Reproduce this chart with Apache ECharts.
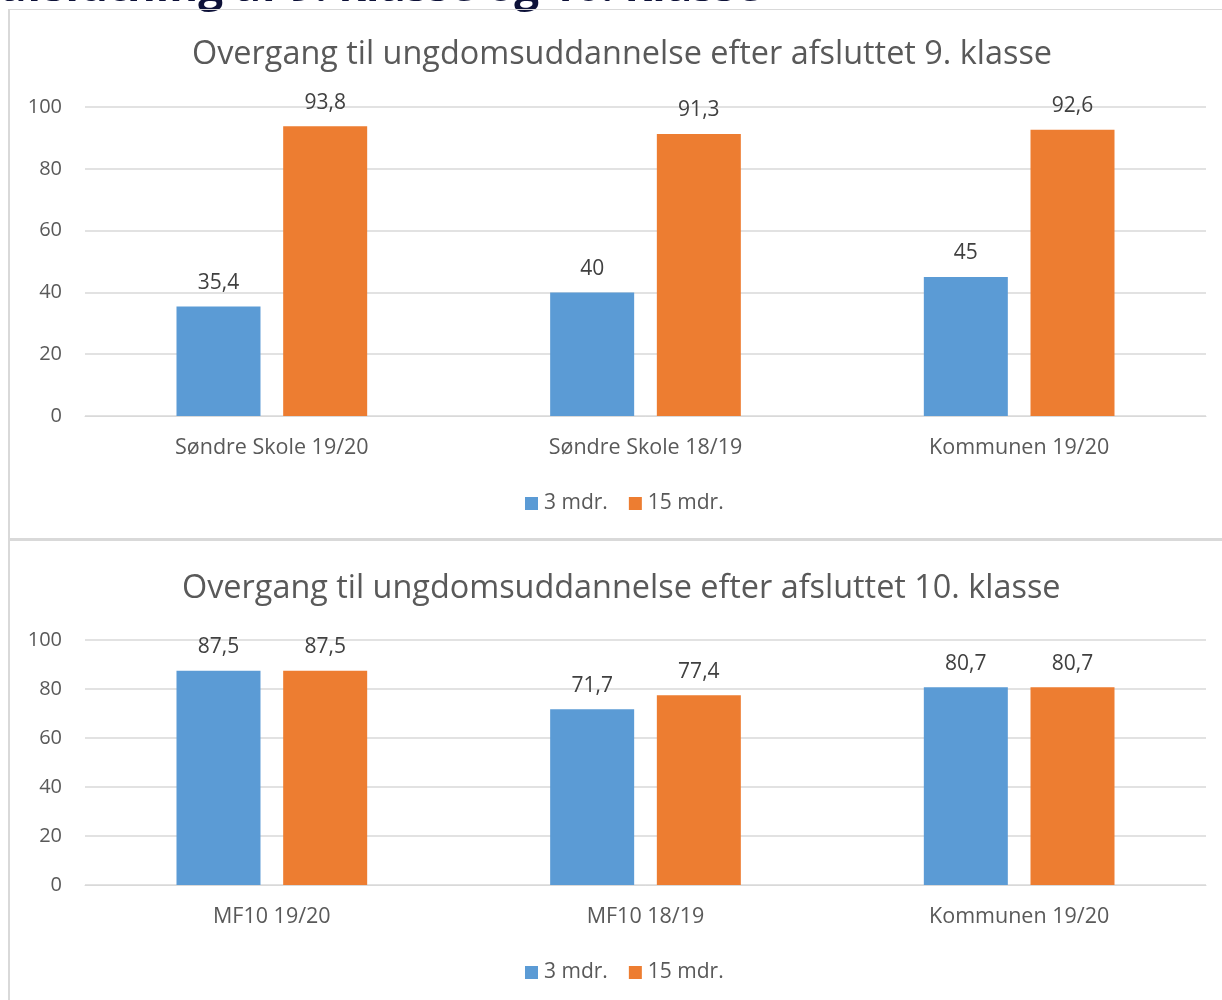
<!DOCTYPE html>
<html><head><meta charset="utf-8">
<script src="https://cdn.jsdelivr.net/npm/echarts@6/dist/echarts.min.js"></script>
<style>html,body{margin:0;padding:0;background:#fff;}#c{width:1222px;height:1000px;}</style>
</head><body><div id="c"></div>
<script>
const heading = 'afslutning af 9. klasse og 10. klasse';
const title1 = 'Overgang til ungdomsuddannelse efter afsluttet 9. klasse';
const title2 = 'Overgang til ungdomsuddannelse efter afsluttet 10. klasse';
const categories1 = ['Søndre Skole 19/20', 'Søndre Skole 18/19', 'Kommunen 19/20'];
const categories2 = ['MF10 19/20', 'MF10 18/19', 'Kommunen 19/20'];
const seriesNames = ['3 mdr.', '15 mdr.'];
const chart1_3mdr = [35.4, 40, 45];
const chart1_15mdr = [93.8, 91.3, 92.6];
const chart2_3mdr = [87.5, 71.7, 80.7];
const chart2_15mdr = [87.5, 77.4, 80.7];
const yTicks = [0, 20, 40, 60, 80, 100];

const FONT = '"Open Sans"';
const TXT = '#595959';
const colors = ['#5b9bd5', '#ed7d31'];
const fmt = v => String(v).replace('.', ',');

function xAxis(i, cats) {
  return {gridIndex: i, type: 'category', data: cats,
    axisLine: {show: true, lineStyle: {color: '#d9d9d9', width: 1}}, axisTick: {show: false},
    axisLabel: {color: TXT, fontFamily: FONT, fontSize: 21.5, margin: 21}};
}
function yAxis(i) {
  return {gridIndex: i, type: 'value', min: yTicks[0], max: yTicks[yTicks.length-1], interval: 20,
    axisLine: {show: false}, axisTick: {show: false},
    splitLine: {lineStyle: {color: '#d9d9d9', width: 1.5}},
    axisLabel: {color: TXT, fontFamily: FONT, fontSize: 20, margin: 23}};
}
function bar(name, data, idx, color) {
  return {name: name, type: 'bar', xAxisIndex: idx, yAxisIndex: idx, data: data,
    barWidth: 84, barGap: '27%', itemStyle: {color: color},
    label: {show: true, position: 'top', distance: 13, color: '#404040', fontFamily: FONT, fontSize: 21, formatter: p => fmt(p.value)}};
}
const legendBase = {data: seriesNames, itemWidth: 13, itemHeight: 13, itemGap: 21, icon: 'rect',
  textStyle: {color: TXT, fontFamily: FONT, fontSize: 21, padding: [0,0,0,1]}};

const chart = echarts.init(document.getElementById('c'));
chart.setOption({
  animation: false,
  title: [
    {text: title1, left: 187, top: 34, textStyle: {color: TXT, fontFamily: FONT, fontSize: 32.4, fontWeight: 'normal'}},
    {text: title2, left: 177, top: 568, textStyle: {color: TXT, fontFamily: FONT, fontSize: 32.4, fontWeight: 'normal'}}
  ],
  legend: [
    Object.assign({}, legendBase, {left: 520, top: 488}),
    Object.assign({}, legendBase, {left: 520, top: 957})
  ],
  grid: [
    {left: 85, right: 16, top: 107, height: 309},
    {left: 85, right: 16, top: 640, height: 245}
  ],
  xAxis: [xAxis(0, categories1), xAxis(1, categories2)],
  yAxis: [yAxis(0), yAxis(1)],
  series: [
    bar(seriesNames[0], chart1_3mdr, 0, colors[0]),
    bar(seriesNames[1], chart1_15mdr, 0, colors[1]),
    bar(seriesNames[0], chart2_3mdr, 1, colors[0]),
    bar(seriesNames[1], chart2_15mdr, 1, colors[1])
  ],
  graphic: [
    {type: 'text', left: 0, top: -34, style: {text: heading, fill: '#0d1138', font: 'bold 44px "Open Sans"'}},
    {type: 'rect', shape: {x: 8, y: 9, width: 1220, height: 1}, style: {fill: '#d9d9d9'}},
    {type: 'rect', shape: {x: 8, y: 9, width: 2, height: 1000}, style: {fill: '#d9d9d9'}},
    {type: 'rect', shape: {x: 8, y: 538, width: 1220, height: 3}, style: {fill: '#d9d9d9'}}
  ]
});
</script></body></html>
